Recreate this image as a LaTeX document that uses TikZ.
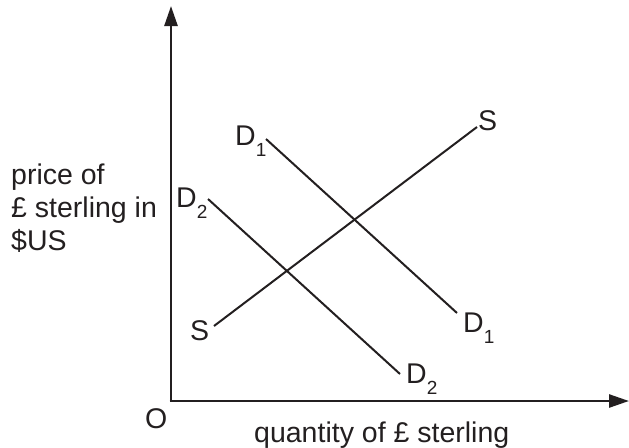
\documentclass[tikz,border=0pt]{standalone}
\usepackage{fontspec}
\setmainfont{Liberation Sans}
\usetikzlibrary{arrows.meta}
\definecolor{ink}{HTML}{231F20}
\newcommand\sublab[2]{#1\raisebox{-11pt}{\fontsize{19}{19}\selectfont #2}}
\begin{document}
\begin{tikzpicture}[x=1pt,y=-1pt,
  lbl/.style={inner sep=0pt,anchor=base west,text=ink,font=\fontsize{28.5}{33}\selectfont},
  axisline/.style={draw=ink,line width=2.6pt,-{Triangle[length=20pt,width=13pt]}},
  curve/.style={draw=ink,line width=2pt}]
\useasboundingbox (0,0) rectangle (629,447);
% axes
\coordinate (O) at (171,401);
\coordinate (ytip) at (171,6);
\coordinate (xtip) at (629,401);
\draw[axisline] ([yshift=1.3pt]O) -- (ytip);
\draw[axisline] ([xshift=-1.3pt]O) -- (xtip);
% curves
\coordinate (s1) at (214,326);
\coordinate (s2) at (477,127);
\coordinate (da1) at (266,139);
\coordinate (da2) at (457,313);
\coordinate (db1) at (208,199);
\coordinate (db2) at (400,374);
\draw[curve] (s1) -- (s2);
\draw[curve] (da1) -- (da2);
\draw[curve] (db1) -- (db2);
% labels
\node[lbl] (p1) at (11,184) {price of};
\node[lbl] (p2) at (11,217) {£ sterling in};
\node[lbl] (p3) at (11,250) {\$US};
\node[lbl] (q) at (254,442) {quantity of £ sterling};
\node[lbl] (o) at (145,428) {O};
\node[lbl] (Sl) at (190,340) {S};
\node[lbl] (Su) at (478,130) {S};
\node[lbl] (D1u) at (235,145) {\sublab{D}{1}};
\node[lbl] (D1l) at (463,332) {\sublab{D}{1}};
\node[lbl] (D2u) at (176,207) {\sublab{D}{2}};
\node[lbl] (D2l) at (406,383) {\sublab{D}{2}};
\end{tikzpicture}
\end{document}
